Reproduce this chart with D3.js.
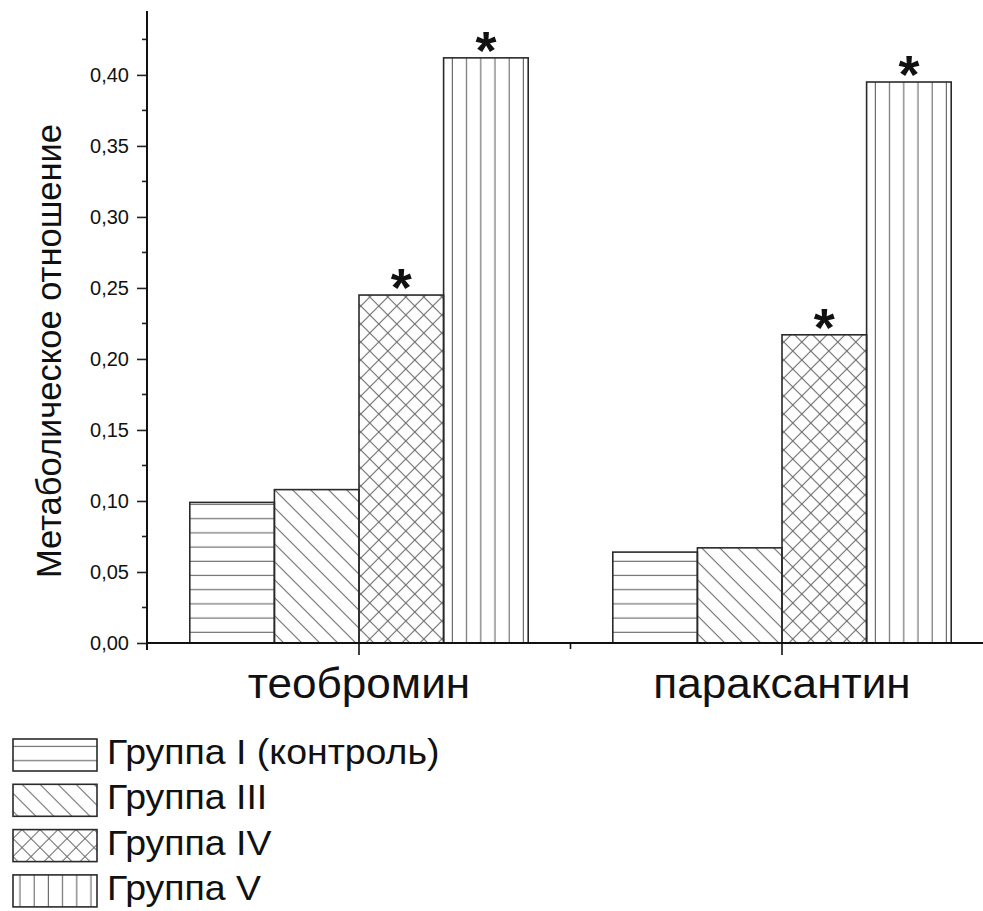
<!DOCTYPE html>
<meta charset="utf-8">
<script src="https://d3js.org/d3.v7.min.js"></script>
<style>
  body { margin: 0; background: #fff; }
  text { font-family: "Liberation Sans", Arial, sans-serif; fill: #111; }
</style>
<div id="chart"></div>
<script>

    // data
    var categories = ["теобромин", "параксантин"];
    var groups = ["Группа I (контроль)", "Группа III", "Группа IV", "Группа V"];
    var groupI   = [0.099, 0.064];
    var groupIII = [0.108, 0.067];
    var groupIV  = [0.245, 0.217];
    var groupV   = [0.412, 0.395];
    var significant = [false, false, true, true];   // asterisk above bar
    var yTicks = [0, 0.05, 0.10, 0.15, 0.20, 0.25, 0.30, 0.35, 0.40];
    var yLabel = "Метаболическое отношение";

    var series = [groupI, groupIII, groupIV, groupV];
    var patterns = ["hatchH", "hatchD", "hatchX", "hatchV"];

    var width = 983, height = 911;

    var svg = d3.select("#chart").append("svg")
        .attr("width", width).attr("height", height);

    // hatch patterns
    var defs = svg.append("defs");
    var ink = "#6e6e6e";

    var pH = defs.append("pattern").attr("id", "hatchH")
        .attr("patternUnits", "userSpaceOnUse").attr("width", 14.2).attr("height", 14.2)
        .attr("y", 0.5);
    pH.append("line").attr("x1", 0).attr("x2", 14.2).attr("y1", 7).attr("y2", 7)
        .attr("stroke", ink).attr("stroke-width", 1.2);

    var pV = defs.append("pattern").attr("id", "hatchV")
        .attr("patternUnits", "userSpaceOnUse").attr("width", 14.2).attr("height", 14.2);
    pV.append("line").attr("y1", 0).attr("y2", 14.2).attr("x1", 7).attr("x2", 7)
        .attr("stroke", ink).attr("stroke-width", 1.2);

    var sD = 18 / Math.SQRT2;
    var pD = defs.append("pattern").attr("id", "hatchD")
        .attr("patternUnits", "userSpaceOnUse").attr("width", sD).attr("height", sD)
        .attr("patternTransform", "rotate(45)");
    pD.append("line").attr("x1", 0).attr("x2", sD).attr("y1", sD / 2).attr("y2", sD / 2)
        .attr("stroke", ink).attr("stroke-width", 1.1);

    var sX = 18 / Math.SQRT2;
    var pX = defs.append("pattern").attr("id", "hatchX")
        .attr("patternUnits", "userSpaceOnUse").attr("width", sX).attr("height", sX)
        .attr("patternTransform", "rotate(45)");
    pX.append("line").attr("x1", 0).attr("x2", sX).attr("y1", sX / 2).attr("y2", sX / 2)
        .attr("stroke", ink).attr("stroke-width", 1.1);
    pX.append("line").attr("y1", 0).attr("y2", sX).attr("x1", sX / 2).attr("x2", sX / 2)
        .attr("stroke", ink).attr("stroke-width", 1.1);

    // scales
    var x0 = d3.scaleBand().domain(categories).range([147.5, 993.5])
        .paddingInner(0.2).paddingOuter(0.1);
    var x1 = d3.scaleBand().domain(d3.range(groups.length)).range([0, x0.bandwidth()]);
    var y = d3.scaleLinear().domain([0, 0.445]).range([643, 11]);

    // bars
    var cat = svg.selectAll(".cat").data(categories).enter().append("g")
        .attr("transform", function(c) { return "translate(" + x0(c) + ",0)"; });

    cat.each(function(c, ci) {
        var g = d3.select(this);
        series.forEach(function(vals, gi) {
            g.append("rect")
                .attr("x", x1(gi)).attr("width", x1.bandwidth())
                .attr("y", y(vals[ci])).attr("height", y(0) - y(vals[ci]))
                .attr("fill", "url(#" + patterns[gi] + ")")
                .attr("stroke", "#2a2a2a").attr("stroke-width", 1.6);
            if (significant[gi]) {
                g.append("text")
                    .attr("x", x1(gi) + x1.bandwidth() / 2)
                    .attr("y", y(vals[ci]) + 11)
                    .attr("text-anchor", "middle")
                    .style("font-size", "54px").style("font-weight", "bold")
                    .text("*");
            }
        });
    });

    // y axis
    var yAxis = d3.axisLeft(y).tickValues(yTicks).tickSize(10).tickPadding(8)
        .tickFormat(function(d) { return d3.format(".2f")(d).replace(".", ","); });
    var ya = svg.append("g").attr("transform", "translate(147,0)").call(yAxis);
    ya.select(".domain").remove();
    ya.selectAll(".tick line").attr("stroke", "#222").attr("stroke-width", 1.6);
    ya.selectAll(".tick text").style("font-size", "20px")
        .style("font-family", "Liberation Sans, Arial, sans-serif").attr("fill", "#222");

    var minor = d3.range(0.025, 0.44, 0.05);
    ya.selectAll(".minor").data(minor).enter().append("line")
        .attr("x1", -5).attr("x2", 0)
        .attr("y1", function(d) { return y(d); }).attr("y2", function(d) { return y(d); })
        .attr("stroke", "#222").attr("stroke-width", 1.6);

    svg.append("line").attr("x1", 147).attr("x2", 147).attr("y1", y(0.445)).attr("y2", y(0) + 7)
        .attr("stroke", "#111").attr("stroke-width", 2);

    // x axis
    svg.append("line").attr("x1", 147).attr("x2", 993).attr("y1", y(0)).attr("y2", y(0))
        .attr("stroke", "#111").attr("stroke-width", 2);

    var centers = categories.map(function(c) { return x0(c) + x0.bandwidth() / 2; });
    svg.selectAll(".xtick").data(centers).enter().append("line")
        .attr("x1", function(d) { return d; }).attr("x2", function(d) { return d; })
        .attr("y1", y(0)).attr("y2", y(0) + 12)
        .attr("stroke", "#111").attr("stroke-width", 1.6);
    svg.append("line")
        .attr("x1", (centers[0] + centers[1]) / 2).attr("x2", (centers[0] + centers[1]) / 2)
        .attr("y1", y(0)).attr("y2", y(0) + 6)
        .attr("stroke", "#111").attr("stroke-width", 1.6);

    svg.selectAll(".xlabel").data(categories).enter().append("text")
        .attr("transform", function(c, i) { return "translate(" + centers[i] + ",698) scale(1.05,1)"; })
        .attr("text-anchor", "middle")
        .style("font-size", "42px")
        .text(function(c) { return c; });

    // y label
    svg.append("text")
        .attr("transform", "translate(61,351) rotate(-90)")
        .attr("text-anchor", "middle")
        .style("font-size", "34.5px")
        .text(yLabel);

    // legend
    var leg = svg.selectAll(".leg").data(groups).enter().append("g")
        .attr("transform", function(d, i) { return "translate(13," + (739 + i * 45.3) + ")"; });
    leg.append("rect").attr("width", 84).attr("height", 32)
        .attr("fill", function(d, i) { return "url(#" + patterns[i] + ")"; })
        .attr("stroke", "#2a2a2a").attr("stroke-width", 1.6);
    leg.append("text").attr("transform", "translate(94,25) scale(1.07,1)")
        .style("font-size", "35px")
        .text(function(d) { return d; });

</script>
